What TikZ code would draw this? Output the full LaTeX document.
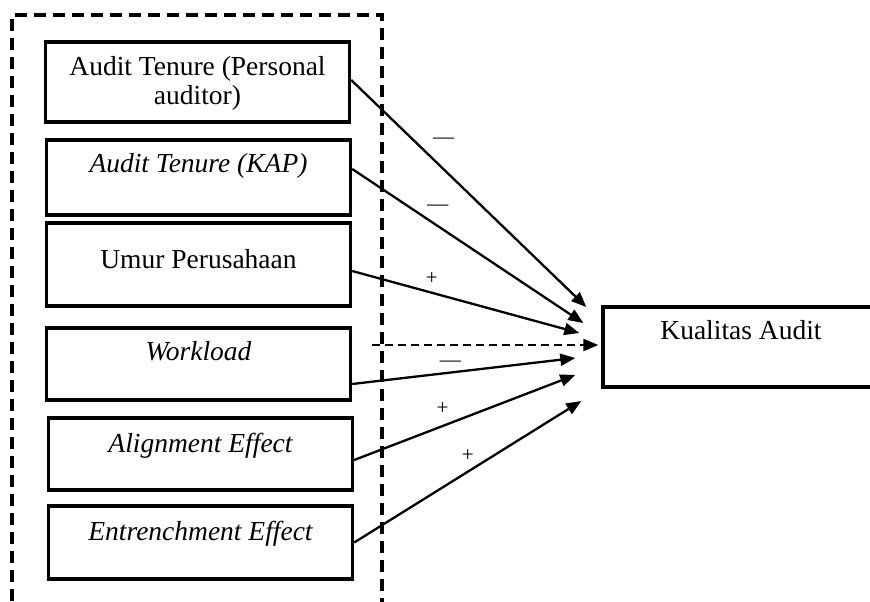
\documentclass[tikz,border=0pt]{standalone}
\usepackage{fontspec}
\setmainfont{Liberation Serif}
\usetikzlibrary{arrows.meta,positioning}

\begin{document}
\begin{tikzpicture}[x=1pt,y=-1pt,>={Triangle[length=15pt,width=12pt]},
    box/.style={draw,line width=3.4pt,minimum width=304pt,minimum height=#1,inner sep=0pt},
    txt/.style={font=\fontsize{27.5}{29}\selectfont,align=center,inner sep=0pt},
    lbl/.style={font=\fontsize{21}{23}\selectfont,inner sep=0pt},
    grp/.style={line width=3.4pt,dash pattern=on 12pt off 7pt},
    conn/.style={line width=2.3pt}]
    \clip (0,0) rectangle (870,602);
    % group frame
    \draw[grp] (12,620) -- (12,15) -- (382,15) -- (382,620);
    % variables
    \node[box=80pt] (b1) at (197.5,82) {};
    \node[box=75pt] (b2) at (198.5,177.5) {};
    \node[box=83pt] (b3) at (198.5,264.5) {};
    \node[box=72pt] (b4) at (198.5,364) {};
    \node[box=72pt] (b5) at (200.5,454) {};
    \node[box=73pt] (b6) at (200.5,542.5) {};
    \node[draw,line width=3.4pt,minimum width=276pt,minimum height=80pt,inner sep=0pt] (ka) at (741,347) {};
    \node[txt,below=16pt of b1.north] (t1) {Audit Tenure (Personal\\auditor)};
    \node[txt,below=15pt of b2.north] (t2) {\itshape Audit Tenure (KAP)};
    \node[txt,below=28pt of b3.north] (t3) {Umur Perusahaan};
    \node[txt,below=15pt of b4.north] (t4) {\itshape Workload};
    \node[txt,below=17pt of b5.north] (t5) {\itshape Alignment Effect};
    \node[txt,below=17pt of b6.north] (t6) {\itshape Entrenchment Effect};
    \node[txt,below=15pt of ka.north] (tk) {Kualitas Audit};
    \coordinate (ds) at (372,345);
    % paths
    \path[->,conn]
    ([yshift=2pt]b1.east) edge node[lbl,pos=.27,xshift=29pt] {\textemdash} ([xshift=-15pt,yshift=40pt]ka.west)
    ([yshift=8.5pt]b2.east) edge node[lbl,pos=.25,xshift=28pt] {\textemdash} ([xshift=-18pt,yshift=24pt]ka.west)
    ([yshift=-6.5pt]b3.east) edge node[lbl,pos=.35,yshift=14pt] {+} ([xshift=-22pt,yshift=14pt]ka.west)
    ([yshift=-20pt]b4.east) edge node[lbl,pos=.44,yshift=9pt] {\textemdash} ([xshift=-26pt,yshift=-11pt]ka.west)
    ([yshift=-6pt]b5.east) edge node[lbl,pos=.4,yshift=17pt] {+} ([xshift=-26pt,yshift=-28pt]ka.west)
    (b6.east) edge node[lbl,pos=.5,yshift=16pt] {+} ([xshift=-20pt,yshift=-54pt]ka.west);
    \draw[->,conn,dash pattern=on 8pt off 5pt] (ds) -- ([xshift=-3pt,yshift=2pt]ka.west);
\end{tikzpicture}
\end{document}
